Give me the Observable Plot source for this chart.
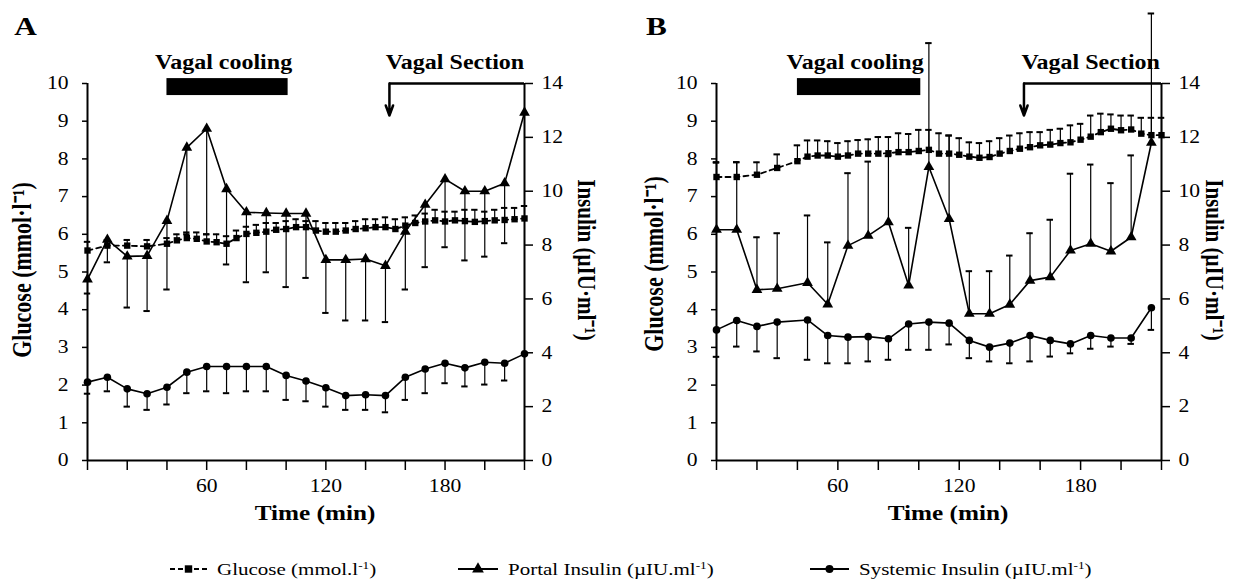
<!DOCTYPE html>
<html>
<head>
<meta charset="utf-8">
<script src="https://cdn.jsdelivr.net/npm/d3@7"></script>
<script src="https://cdn.jsdelivr.net/npm/@observablehq/plot@0.6"></script>
<style>
html,body{margin:0;padding:0;background:#fff;}
#wrap{position:relative;width:1234px;height:583px;overflow:hidden;font-family:"Liberation Serif","Times New Roman",serif;color:#000;}
.panel{position:absolute;top:0;}
.leg{position:absolute;top:559px;height:20px;display:flex;align-items:center;}
.leg svg{flex:none;}
.leg span{display:inline-block;font-size:17.5px;transform:scaleX(1.2);transform-origin:left center;white-space:nowrap;line-height:20px;}
.leg sup{font-size:11px;vertical-align:6px;line-height:0;}
</style>
</head>
<body>
<div id="wrap">
  <div id="panelA" class="panel" style="left:0px"></div>
  <div id="panelB" class="panel" style="left:617px"></div>
  <div id="legend"></div>
</div>
<script>
// ---------------- data ----------------
const panelLabels = ["A", "B"];
const eventNames = ["Vagal cooling", "Vagal Section"];
const coolingStart = 40, coolingEnd = 101, sectionTime = 152;

const gluTicks = [0, 1, 2, 3, 4, 5, 6, 7, 8, 9, 10];
const insTicks = [0, 2, 4, 6, 8, 10, 12, 14];
const xTicks = [0, 20, 40, 60, 80, 100, 120, 140, 160, 180, 200, 220];
const xTickLabels = [60, 120, 180];

const xTitle = "Time (min)";
const yTitleLeft = "Glucose (mmol\u00b7l\u207b\u00b9)";
const yTitleRight = "Insulin (\u00b5IU\u00b7ml\u207b\u00b9)";
const legendNames = ["Glucose (mmol.l", "Portal Insulin (\u00b5IU.ml", "Systemic Insulin (\u00b5IU.ml"];

// glucose sampling times (both panels)
const timeGlucose = [0, 10, 20, 30, 40, 45, 50, 55, 60, 65, 70, 75, 80, 85, 90, 95, 100, 105, 110, 115, 120,
  125, 130, 135, 140, 145, 150, 155, 160, 165, 170, 175, 180, 185, 190, 195, 200, 205, 210, 215, 220];

// Panel A
const glucoseA = [5.57, 5.70, 5.70, 5.68, 5.75, 5.84, 5.90, 5.88, 5.81, 5.79, 5.75, 5.90, 6.01, 6.04, 6.07, 6.12, 6.14, 6.19, 6.19, 6.10, 6.07,
  6.07, 6.10, 6.14, 6.16, 6.19, 6.19, 6.14, 6.23, 6.30, 6.34, 6.37, 6.34, 6.37, 6.35, 6.33, 6.35, 6.37, 6.38, 6.40, 6.42];
const glucoseA_upper = [5.80, 5.85, 5.85, 5.85, 5.90, 6.00, 6.05, 6.05, 6.00, 6.00, 5.95, 6.10, 6.20, 6.25, 6.30, 6.30, 6.35, 6.40, 6.35, 6.35, 6.30,
  6.30, 6.30, 6.35, 6.40, 6.40, 6.45, 6.40, 6.45, 6.50, 6.55, 6.65, 6.60, 6.60, 6.65, 6.65, 6.60, 6.65, 6.70, 6.70, 6.75];
const timeInsulinA = [0, 10, 20, 30, 40, 50, 60, 70, 80, 90, 100, 110, 120, 130, 140, 150, 160, 170, 180, 190, 200, 210, 220];
const portalA = [6.73, 8.20, 7.58, 7.60, 8.90, 11.62, 12.32, 10.08, 9.22, 9.19, 9.17, 9.17, 7.45, 7.45, 7.48, 7.23, 8.50, 9.50, 10.45, 10.00, 10.00, 10.30, 12.92];
const portalA_lower = [6.20, 7.36, 5.68, 5.55, 6.35, 8.40, 8.40, 7.28, 6.62, 6.99, 6.44, 6.78, 5.48, 5.20, 5.20, 5.14, 6.35, 7.18, 7.92, 7.43, 7.57, 8.07, 12.92];
const systemicA = [2.91, 3.09, 2.66, 2.48, 2.72, 3.28, 3.49, 3.49, 3.49, 3.49, 3.16, 2.95, 2.70, 2.41, 2.44, 2.41, 3.09, 3.40, 3.61, 3.44, 3.65, 3.61, 3.96];
const systemicA_lower = [2.48, 2.57, 2.00, 1.88, 2.08, 2.50, 2.57, 2.50, 2.57, 2.57, 2.25, 2.20, 2.00, 1.88, 1.88, 1.79, 2.25, 2.50, 2.87, 2.75, 2.82, 2.97, 3.96];

// Panel B
const glucoseB = [7.52, 7.52, 7.58, 7.76, 7.94, 8.06, 8.09, 8.09, 8.06, 8.09, 8.14, 8.14, 8.14, 8.15, 8.18, 8.18, 8.21, 8.24, 8.14, 8.14, 8.11,
  8.06, 8.03, 8.05, 8.14, 8.21, 8.27, 8.31, 8.36, 8.38, 8.42, 8.44, 8.51, 8.59, 8.71, 8.80, 8.76, 8.78, 8.67, 8.63, 8.63];
const glucoseB_upper = [7.90, 7.91, 7.91, 8.12, 8.36, 8.49, 8.49, 8.47, 8.42, 8.47, 8.50, 8.52, 8.58, 8.58, 8.68, 8.66, 8.77, 8.77, 8.68, 8.62, 8.55,
  8.44, 8.42, 8.47, 8.55, 8.62, 8.68, 8.71, 8.71, 8.77, 8.80, 8.89, 8.93, 9.15, 9.20, 9.18, 9.15, 9.15, 9.09, 9.09, 9.09];
const timeInsulinB = [0, 10, 20, 30, 45, 55, 65, 75, 85, 95, 105, 115, 125, 135, 145, 155, 165, 175, 185, 195, 205, 215];
const portalB = [8.57, 8.57, 6.34, 6.38, 6.60, 5.80, 7.98, 8.35, 8.85, 6.50, 10.90, 8.97, 5.45, 5.45, 5.79, 6.68, 6.81, 7.80, 8.05, 7.77, 8.29, 11.80];
const portalB_upper = [11.08, 11.08, 8.29, 8.44, 9.10, 8.10, 10.67, 11.10, 11.30, 8.64, 15.50, 12.07, 7.03, 7.03, 7.61, 8.44, 8.94, 10.65, 10.99, 10.30, 11.33, 16.60];
const systemicB = [4.85, 5.20, 4.98, 5.14, 5.22, 4.64, 4.58, 4.60, 4.52, 5.07, 5.14, 5.10, 4.46, 4.21, 4.36, 4.64, 4.46, 4.33, 4.64, 4.55, 4.55, 5.67];
const systemicB_lower = [3.85, 4.23, 4.05, 3.80, 3.74, 3.61, 3.61, 3.68, 3.74, 4.11, 4.11, 4.31, 3.80, 3.68, 3.61, 3.68, 3.86, 3.98, 4.15, 4.23, 4.33, 4.85];

// ---------------- chart ----------------
const K = 10 / 14; // insulin (right axis 0-14) expressed on the glucose axis (0-10)
const FONT = "'Liberation Serif','Times New Roman',serif";

function makePanel(cfg) {
  const glu = timeGlucose.map((t, i) => ({t, v: cfg.glu[i], e: cfg.gluErr[i]}));
  const por = cfg.time.map((t, i) => ({t, v: cfg.por[i] * K, e: cfg.porErr[i] * K}));
  const sys = cfg.time.map((t, i) => ({t, v: cfg.sys[i] * K, e: cfg.sysErr[i] * K}));
  const bars = [...glu, ...por, ...sys].filter(d => Math.abs(d.e - d.v) > 1e-6);
  const cooling = [{name: eventNames[0], start: coolingStart, end: coolingEnd}];
  const section = [{name: eventNames[1], time: sectionTime}];
  const W = 617;
  const mid = {textAnchor: "middle", lineAnchor: "middle"};
  return Plot.plot({
    width: W, height: 530,
    marginLeft: cfg.ml, marginRight: W - cfg.ml - cfg.w, marginTop: 83, marginBottom: 70,
    x: {domain: [0, 220]},
    y: {domain: [0, 10]},
    style: {fontFamily: FONT, fontSize: "18px", color: "#000", background: "#fff", overflow: "visible"},
    marks: [
      // error bars
      Plot.ruleX(bars, {x: "t", y1: "v", y2: "e", stroke: "#000", strokeWidth: 1.2}),
      Plot.ruleY(bars, {y: "e", x1: d => d.t - 1.6, x2: d => d.t + 1.6, stroke: "#000", strokeWidth: 2}),
      // series lines
      Plot.line(glu, {x: "t", y: "v", stroke: "#000", strokeWidth: 1.8, strokeDasharray: "5,4"}),
      Plot.line(por, {x: "t", y: "v", stroke: "#000", strokeWidth: 1.6}),
      Plot.line(sys, {x: "t", y: "v", stroke: "#000", strokeWidth: 1.6}),
      // markers
      Plot.dot(glu, {x: "t", y: "v", symbol: "square", r: 3.6, fill: "#000", stroke: "none"}),
      Plot.dot(por, {x: "t", y: "v", symbol: "triangle", r: 4, fill: "#000", stroke: "none"}),
      Plot.dot(sys, {x: "t", y: "v", symbol: "circle", r: 3.8, fill: "#000", stroke: "none"}),
      // axes
      Plot.axisY(gluTicks, {anchor: "left", tickSize: 5, tickPadding: 14, label: null, strokeWidth: 1.5}),
      Plot.axisY(insTicks.map(v => v * K), {anchor: "right", tickSize: 8, tickPadding: 9, label: null, strokeWidth: 1.5,
        tickFormat: d => String(Math.round(d / K))}),
      Plot.axisX(xTicks, {anchor: "bottom", tickSize: 10, tickPadding: 9, label: null, strokeWidth: 1.5,
        tickFormat: d => xTickLabels.includes(d) ? String(d) : ""}),
      Plot.ruleX([0, 220], {stroke: "#000", strokeWidth: 2}),
      Plot.ruleY([0], {stroke: "#000", strokeWidth: 2}),
      // axis titles
      Plot.text([yTitleLeft], {frameAnchor: "left", dx: cfg.leftTitleDx, dy: cfg.leftTitleDy, rotate: -90, fontSize: 22, fontWeight: "bold", ...mid}),
      Plot.text([yTitleRight], {frameAnchor: "right", dx: cfg.rightTitleDx, dy: -12, rotate: 90, fontSize: 21, fontWeight: "bold", ...mid}),
      Plot.text([xTitle], {frameAnchor: "bottom", dx: 9, dy: 53, fontSize: 21, fontWeight: "bold", ...mid}),
      // panel letter
      Plot.text([cfg.label], {frameAnchor: "top-left", dx: cfg.labelDx, dy: -57, fontSize: 26, fontWeight: "bold", ...mid}),
      // vagal cooling
      Plot.rect(cooling, {x1: "start", x2: "end", y1: 9.68, y2: 10.13, fill: "#000"}),
      Plot.text(cooling, {x: d => (d.start + d.end) / 2 - 2, frameAnchor: "top", dy: -21, text: "name", fontSize: 20, fontWeight: "bold", ...mid}),
      // vagal section
      Plot.ruleY(section, {x1: "time", x2: 220, y: 10, stroke: "#000", strokeWidth: 2.5}),
      Plot.arrow(section, {x1: "time", x2: "time", y1: 10, y2: 9.15, stroke: "#000", strokeWidth: 2.5, headLength: 20, headAngle: 40}),
      Plot.text(section, {x: d => (d.time + 220) / 2 - 1, frameAnchor: "top", dy: -21, text: "name", fontSize: 20, fontWeight: "bold", ...mid})
    ]
  });
}

const svgA = makePanel({label: panelLabels[0], ml: 87, w: 437, labelDx: -62, leftTitleDx: -65, leftTitleDy: -2, rightTitleDx: 62,
  glu: glucoseA, gluErr: glucoseA_upper, time: timeInsulinA, por: portalA, porErr: portalA_lower, sys: systemicA, sysErr: systemicA_lower});
const svgB = makePanel({label: panelLabels[1], ml: 99, w: 445, labelDx: -60, leftTitleDx: -62, leftTitleDy: -8, rightTitleDx: 53,
  glu: glucoseB, gluErr: glucoseB_upper, time: timeInsulinB, por: portalB, porErr: portalB_upper, sys: systemicB, sysErr: systemicB_lower});
document.getElementById("panelA").appendChild(svgA);
document.getElementById("panelB").appendChild(svgB);

// The original figure is stretched horizontally: widen text glyphs accordingly.
function stretchText(root, f) {
  root.querySelectorAll("text").forEach(t => {
    const tr = t.getAttribute("transform") || "";
    const ptr = (t.parentNode && t.parentNode.getAttribute && t.parentNode.getAttribute("transform")) || "";
    if (/rotate/.test(tr) || /rotate/.test(ptr)) {
      t.setAttribute("transform", (tr + ` scale(1,${f})`).trim());
    } else {
      const L = t.getComputedTextLength();
      if (L > 0) {
        t.setAttribute("textLength", (L * f).toFixed(2));
        t.setAttribute("lengthAdjust", "spacingAndGlyphs");
      }
    }
  });
}
stretchText(svgA, 1.2);
stretchText(svgB, 1.2);

// ---------------- legend ----------------
const legendX = [170, 458, 810];
const legendTextX = [217, 508, 859];
const legend = d3.select("#legend");
const symbols = [d3.symbolSquare, d3.symbolTriangle, d3.symbolCircle];
const symbolSizes = [55, 60, 50];
legendNames.forEach((name, i) => {
  const sw = legendTextX[i] - legendX[i] - 10;
  const item = legend.append("div").attr("class", "leg").style("left", legendX[i] + "px");
  const s = item.append("svg").attr("width", sw).attr("height", 16).style("margin-right", "10px");
  s.append("line").attr("x1", 0).attr("x2", sw).attr("y1", 8).attr("y2", 8)
    .attr("stroke", "#000").attr("stroke-width", 2).attr("stroke-dasharray", i === 0 ? "5,3" : null);
  s.append("path").attr("d", d3.symbol(symbols[i], symbolSizes[i])()).attr("transform", `translate(${sw / 2},8)`).attr("fill", "#000");
  const sp = item.append("span");
  sp.append("span").style("transform", "none").text(name);
  sp.append("sup").text("-1");
  sp.append("span").style("transform", "none").text(")");
});
</script>
</body>
</html>
